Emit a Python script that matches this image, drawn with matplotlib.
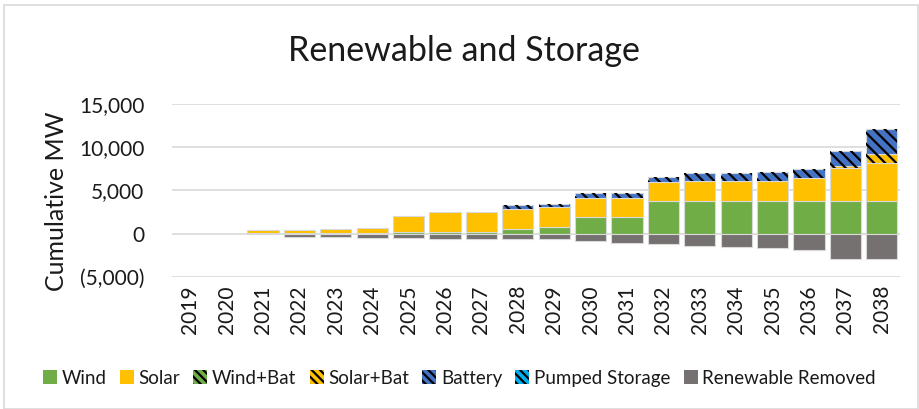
import matplotlib
matplotlib.use('Agg')
import matplotlib.pyplot as plt
from matplotlib.patches import Patch, Rectangle
from matplotlib.ticker import FuncFormatter
import numpy as np

plt.rcParams['font.family'] = ['Lato', 'DejaVu Sans']
plt.rcParams['hatch.linewidth'] = 1.6

years = [str(y) for y in range(2019, 2039)]
wind = [0, 0, 100, 100, 100, 100, 150, 150, 150, 580, 770, 1925, 1925,
        3770, 3770, 3770, 3770, 3770, 3770, 3770]
solar = [0, 0, 300, 300, 400, 550, 1930, 2390, 2390, 2270, 2310, 2230, 2230,
         2230, 2380, 2380, 2330, 2730, 3850, 4390]
wind_bat = [0] * 20
solar_bat = [0] * 18 + [230, 1070]
battery = [0, 0, 0, 0, 0, 0, 0, 0, 0, 420, 380, 575, 575,
           580, 850, 850, 1000, 960, 1690, 2890]
pumped = [0] * 20
removed = [0, 0, -100, -420, -420, -500, -500, -615, -615, -615, -650, -850, -1115,
           -1230, -1420, -1580, -1615, -1885, -2960, -3000]

series = [
    ('Wind', wind, '#70AD47', False),
    ('Solar', solar, '#FFC000', False),
    ('Wind+Bat', wind_bat, '#70AD47', True),
    ('Solar+Bat', solar_bat, '#FFC000', True),
    ('Battery', battery, '#4472C4', True),
    ('Pumped Storage', pumped, '#00B0F0', True),
]
text_c = '#1a1a1a'

fig = plt.figure(figsize=(9.19, 4.09), dpi=100)
fig.add_artist(Rectangle((0.004, 0.0), 0.995, 0.988, transform=fig.transFigure,
                         fill=False, edgecolor='#D9D9D9', linewidth=1.2))
ax = fig.add_axes([0.1872, 0.3235, 0.7921, 0.4215])

x = np.arange(len(years))
w = 0.86
bottom = np.zeros(len(years))
handles = []
for name, vals, color, hatched in series:
    vals = np.array(vals, dtype=float)
    mask = vals != 0
    ax.bar(x[mask], vals[mask], w, bottom=bottom[mask], color=color,
           edgecolor='#D9D9D9', linewidth=0.8, zorder=2)
    if hatched:
        ax.bar(x[mask], vals[mask], w, bottom=bottom[mask], facecolor='none',
               edgecolor='black', hatch='\\\\\\', linewidth=0, zorder=3)
        handles.append(Patch(facecolor=color, edgecolor='black', hatch='\\\\\\\\',
                             linewidth=0, label=name))
    else:
        handles.append(Patch(facecolor=color, linewidth=0, label=name))
    bottom += vals

rem = np.array(removed, dtype=float)
mask = rem != 0
ax.bar(x[mask], rem[mask], w, color='#767171', edgecolor='#D9D9D9',
       linewidth=0.8, zorder=2)
handles.append(Patch(facecolor='#767171', linewidth=0, label='Renewable Removed'))

ax.set_xlim(-0.5, len(years) - 0.5)
ax.set_ylim(-5000, 15000)
ax.set_yticks([-5000, 0, 5000, 10000, 15000])
ax.yaxis.set_major_formatter(FuncFormatter(
    lambda v, p: f'({abs(v):,.0f})' if v < 0 else f'{v:,.0f}'))
ax.set_xticks(x)
ax.set_xticklabels(years, rotation=90)
ax.grid(axis='y', color='#D9D9D9', linewidth=1.2, zorder=0)
ax.set_axisbelow(True)
for s in ax.spines.values():
    s.set_visible(False)
ax.tick_params(length=0, labelsize=15, colors=text_c, pad=6)
ax.tick_params(axis='y', labelsize=15, pad=20)
ax.set_ylabel('Cumulative MW', fontsize=18, color=text_c)
ax.yaxis.set_label_coords(-0.143, 0.44)

fig.text(0.505, 0.875, 'Renewable and Storage', ha='center', va='center',
         fontsize=24.5, color=text_c)

fig.legend(handles=handles, loc='center', bbox_to_anchor=(0.5, 0.075), ncol=7,
           frameon=False, fontsize=13.5, handlelength=0.75, handleheight=0.75,
           handletextpad=0.25, columnspacing=0.7, labelcolor=text_c)

fig.savefig('out.png', dpi=100)
